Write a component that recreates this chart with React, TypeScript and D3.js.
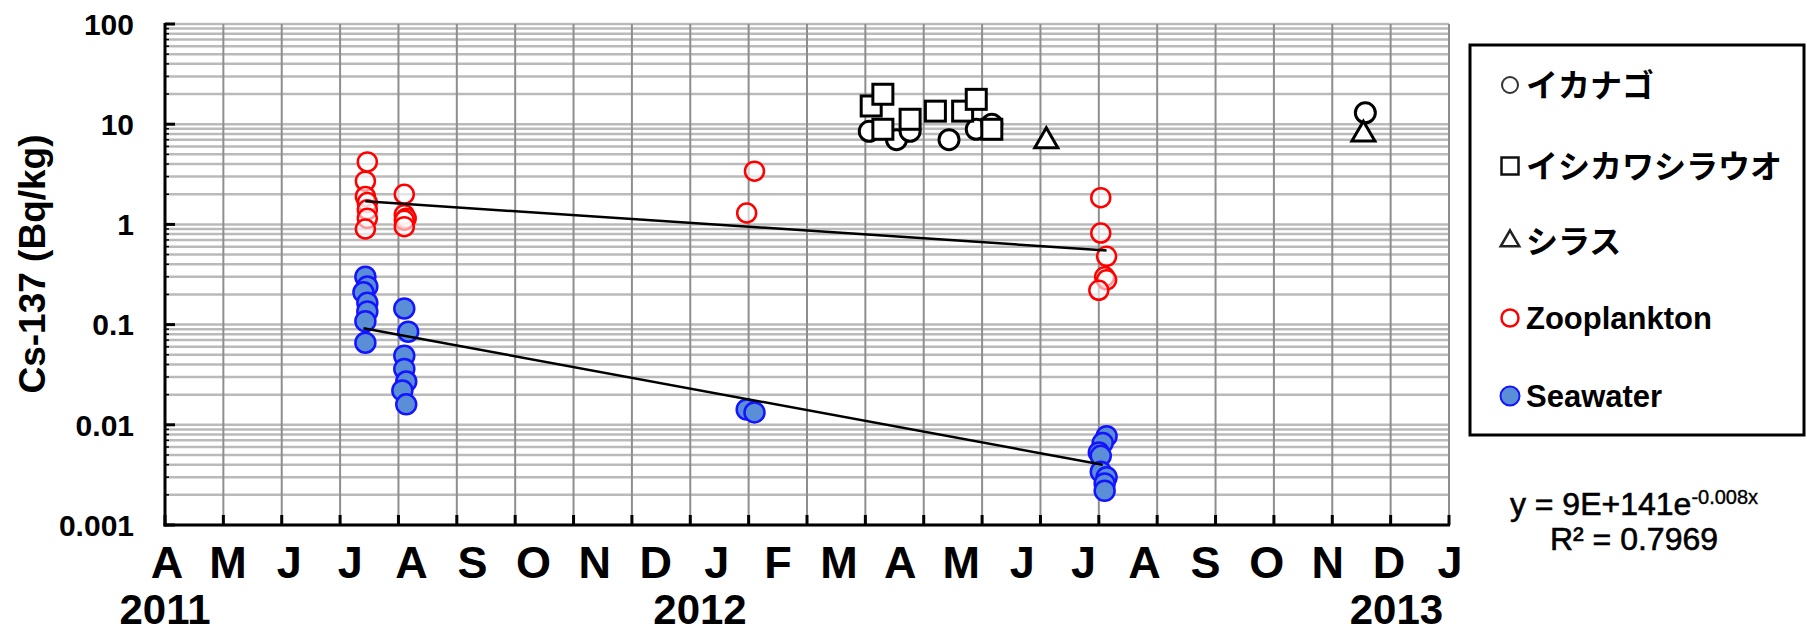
import React from "react";
import * as d3 from "d3";

// ---------- data ----------
type Pt = [string, number];

const monthLabels = ["A","M","J","J","A","S","O","N","D","J","F","M","A","M","J","J","A","S","O","N","D","J"];
const yearLabels: Pt[] = [["2011-04-01", 2011], ["2012-01-01", 2012], ["2012-12-24", 2013]];
const yTickValues = [0.001, 0.01, 0.1, 1, 10, 100];
const yTickLabels = ["0.001", "0.01", "0.1", "1", "10", "100"];

const ikanago: Pt[] = [
  ["2012-03-28", 8.5], ["2012-04-11", 7.0], ["2012-04-18", 8.5], ["2012-05-08", 7.0],
  ["2012-05-22", 8.9], ["2012-05-30", 10.0], ["2012-12-08", 13.0],
];
const shirauo: Pt[] = [
  ["2012-03-29", 15.2], ["2012-04-04", 19.9], ["2012-04-04", 8.9], ["2012-04-18", 11.2],
  ["2012-05-01", 13.5], ["2012-05-15", 13.5], ["2012-05-22", 17.7], ["2012-05-30", 8.9],
];
const shirasu: Pt[] = [["2012-06-27", 6.8], ["2012-12-07", 7.9]];

const zooplankton: Pt[] = [
  ["2011-07-14", 4.2], ["2011-07-13", 2.7], ["2011-07-13", 1.9], ["2011-07-14", 1.65],
  ["2011-07-14", 1.4], ["2011-07-14", 1.15], ["2011-07-13", 0.9],
  ["2011-08-02", 2.0], ["2011-08-02", 1.25], ["2011-08-03", 1.15], ["2011-08-02", 1.1], ["2011-08-02", 0.95],
  ["2012-01-25", 1.3], ["2012-01-29", 3.4],
  ["2012-07-25", 1.85], ["2012-07-25", 0.82], ["2012-07-28", 0.48], ["2012-07-27", 0.3],
  ["2012-07-28", 0.28], ["2012-07-24", 0.22],
];
const seawater: Pt[] = [
  ["2011-07-13", 0.3], ["2011-07-14", 0.24], ["2011-07-12", 0.21], ["2011-07-14", 0.165],
  ["2011-07-14", 0.135], ["2011-07-13", 0.108], ["2011-07-13", 0.066],
  ["2011-08-02", 0.145], ["2011-08-04", 0.085], ["2011-08-02", 0.049], ["2011-08-02", 0.036],
  ["2011-08-03", 0.027], ["2011-08-01", 0.022], ["2011-08-03", 0.016],
  ["2012-01-25", 0.0142], ["2012-01-29", 0.0133],
  ["2012-07-28", 0.0077], ["2012-07-26", 0.0066], ["2012-07-24", 0.0053], ["2012-07-25", 0.0049],
  ["2012-07-25", 0.0034], ["2012-07-28", 0.003], ["2012-07-27", 0.0026], ["2012-07-27", 0.0022],
];
const zooFit: Pt[] = [["2011-07-13", 1.7], ["2012-07-28", 0.55]];
const seaFit: Pt[] = [["2011-07-12", 0.092], ["2012-07-26", 0.004]];

const legendLabels = ["イカナゴ", "イシカワシラウオ", "シラス", "Zooplankton", "Seawater"];
const equationMain = "y = 9E+141e";
const equationExp = "-0.008x";
const rSquared = "R² = 0.7969";

const AXIS_START = "2011-04-01";
const AXIS_DAYS = 660;
const GRID_STEP_DAYS = 30;

// ---------- component ----------
const parse = d3.timeParse("%Y-%m-%d");
const FONT = "'Liberation Sans', Arial, sans-serif";
const JFONT = "'Noto Sans CJK JP', 'Liberation Sans', sans-serif";

export default function App() {
  const W = 1807, H = 633;
  const left = 165, right = 1449, top = 24, bottom = 525;
  const start = parse(AXIS_START) as Date;
  const x = d3.scaleTime().domain([start, d3.timeDay.offset(start, AXIS_DAYS)]).range([left, right]);
  const y = d3.scaleLog().domain([0.001, 100]).range([bottom, top]);
  const px = (d: Pt) => x(parse(d[0]) as Date);
  const py = (d: Pt) => y(d[1]);

  const vGrid = d3.range(0, AXIS_DAYS + 1, GRID_STEP_DAYS).map((d) => x(d3.timeDay.offset(start, d)));
  const hGridVals: number[] = [];
  for (let e = -3; e <= 1; e++) for (let k = 1; k <= 9; k++) hGridVals.push(k * Math.pow(10, e));
  hGridVals.push(100);

  const monthX = d3.scalePoint<number>().domain(d3.range(monthLabels.length)).range([167, 1450]);
  const line = d3.line<Pt>().x(px).y(py);
  const tri = d3.symbol().type(d3.symbolTriangle).size(230)();
  const triLeg = d3.symbol().type(d3.symbolTriangle).size(150)();

  const legY = [85, 166, 241, 318, 396];

  return (
    <svg width={W} height={H} style={{ position: "absolute", left: 0, top: 0, background: "#fff" }}>
      <rect x={0} y={0} width={W} height={H} fill="#fff" />
      {/* horizontal grid */}
      {hGridVals.map((v, i) => (
        <line key={"h" + i} x1={left} x2={right} y1={y(v)} y2={y(v)} stroke="#bababa" strokeWidth={2.5} />
      ))}
      {/* vertical grid */}
      {vGrid.map((gx, i) => (
        <line key={"v" + i} x1={gx} x2={gx} y1={top} y2={bottom} stroke="#8e8e8e" strokeWidth={2} />
      ))}
      {/* axes */}
      <line x1={left} x2={left} y1={top - 1} y2={bottom + 1.5} stroke="#000" strokeWidth={3} />
      <line x1={left - 1.5} x2={right + 1} y1={bottom} y2={bottom} stroke="#000" strokeWidth={3} />
      {yTickValues.map((v, i) => (
        <line key={"yt" + i} x1={left} x2={left + 10} y1={y(v)} y2={y(v)} stroke="#000" strokeWidth={3} />
      ))}
      {hGridVals.map((v, i) => (
        <line key={"ym" + i} x1={left} x2={left + 4} y1={y(v)} y2={y(v)} stroke="#000" strokeWidth={1.5} />
      ))}
      {vGrid.map((gx, i) => (
        <line key={"xt" + i} x1={gx} x2={gx} y1={bottom} y2={bottom - 10} stroke="#000" strokeWidth={3} />
      ))}
      {/* y tick labels */}
      {yTickValues.map((v, i) => (
        <text key={"yl" + i} x={134} y={y(v)} dy="0.36em" textAnchor="end" fontFamily={FONT} fontWeight="bold" fontSize={30}>
          {yTickLabels[i]}
        </text>
      ))}
      {/* y title */}
      <text transform="translate(45,264) rotate(-90)" textAnchor="middle" fontFamily={FONT} fontWeight="bold" fontSize={37}>
        Cs-137 (Bq/kg)
      </text>
      {/* month labels */}
      {monthLabels.map((m, i) => (
        <text key={"m" + i} x={monthX(i)} y={578} textAnchor="middle" fontFamily={FONT} fontWeight="bold" fontSize={45}>
          {m}
        </text>
      ))}
      {yearLabels.map((d, i) => (
        <text key={"yr" + i} x={px(d)} y={624} textAnchor="middle" fontFamily={FONT} fontWeight="bold" fontSize={42}>
          {d[1]}
        </text>
      ))}

      {/* zooplankton */}
      {zooplankton.map((d, i) => (
        <circle key={"z" + i} cx={px(d)} cy={py(d)} r={9.5} fill="rgba(255,255,255,0.6)" stroke="#ff0000" strokeWidth={2.5} />
      ))}
      {/* seawater */}
      {seawater.map((d, i) => (
        <circle key={"s" + i} cx={px(d)} cy={py(d)} r={10} fill="#5a8ed6" stroke="#1414ff" strokeWidth={2.5} />
      ))}
      {/* fish */}
      {ikanago.map((d, i) => (
        <circle key={"i" + i} cx={px(d)} cy={py(d)} r={10} fill="#fff" stroke="#000" strokeWidth={3} />
      ))}
      {shirauo.map((d, i) => (
        <rect key={"q" + i} x={px(d) - 10} y={py(d) - 10} width={20} height={20} fill="#fff" stroke="#000" strokeWidth={3} />
      ))}
      {shirasu.map((d, i) => (
        <path key={"t" + i} d={tri as string} transform={`translate(${px(d)},${py(d)})`} fill="#fff" stroke="#000" strokeWidth={3} />
      ))}
      {/* fits */}
      <path d={line(zooFit) as string} fill="none" stroke="#000" strokeWidth={2.5} />
      <path d={line(seaFit) as string} fill="none" stroke="#000" strokeWidth={2.5} />

      {/* legend */}
      <rect x={1470} y={45} width={334} height={390} fill="#fff" stroke="#000" strokeWidth={3} />
      <circle cx={1510} cy={legY[0]} r={8} fill="#fff" stroke="#333" strokeWidth={2} />
      <rect x={1501.5} y={legY[1] - 8.5} width={17} height={17} fill="#fff" stroke="#111" strokeWidth={2.5} />
      <path d={triLeg as string} transform={`translate(1510,${legY[2]})`} fill="#fff" stroke="#222" strokeWidth={2.5} />
      <circle cx={1510} cy={legY[3]} r={8.5} fill="#fff" stroke="#ff0000" strokeWidth={2.5} />
      <circle cx={1510} cy={legY[4]} r={9.5} fill="#5a8ed6" stroke="#1414ff" strokeWidth={2} />
      {legendLabels.map((t, i) => (
        <text key={"lg" + i} x={1526} y={legY[i]} dy="0.36em" fontFamily={i < 3 ? JFONT : FONT} fontWeight="bold" fontSize={i < 3 ? 32 : 31}>
          {t}
        </text>
      ))}

      {/* equation */}
      <text x={1634} y={515} textAnchor="middle" fontFamily={FONT} fontSize={32} stroke="#000" strokeWidth={0.6}>
        {equationMain}
        <tspan fontSize={20} dy={-11} strokeWidth={0.4}>{equationExp}</tspan>
      </text>
      <text x={1634} y={550} textAnchor="middle" fontFamily={FONT} fontSize={32} stroke="#000" strokeWidth={0.6}>
        {rSquared}
      </text>
    </svg>
  );
}
